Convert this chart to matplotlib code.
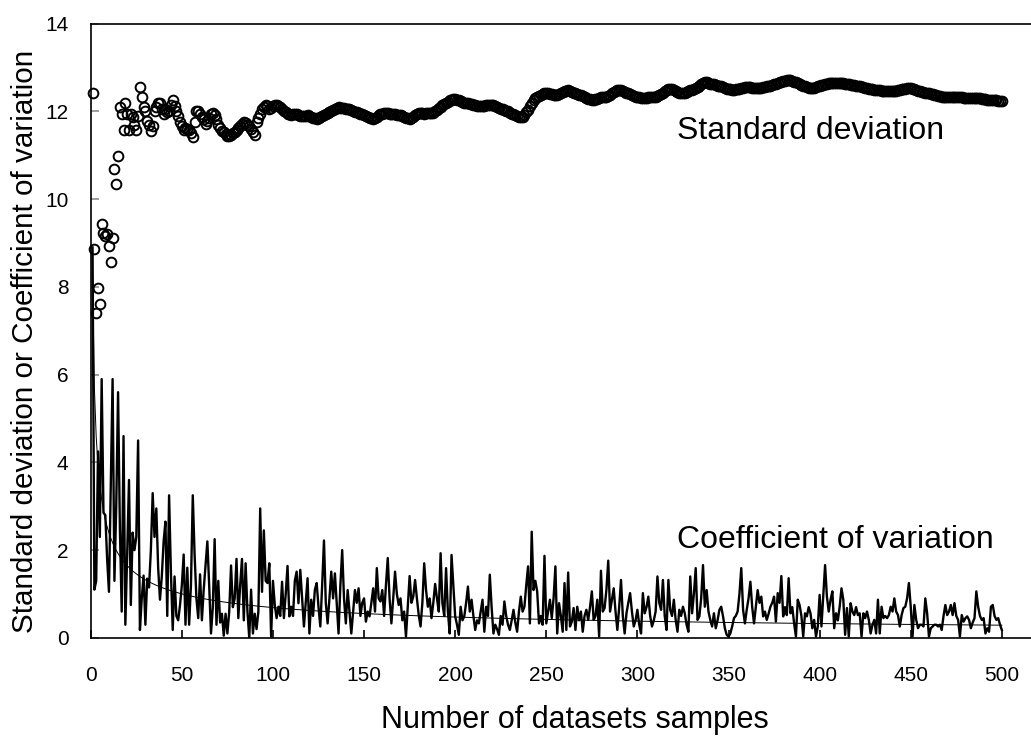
import numpy as np
import matplotlib
matplotlib.use('Agg')
from matplotlib import pyplot as plt

# standard deviation for sample counts 1..500
sd_values = [
    12.42, 8.87, 7.41, 7.98, 7.60, 9.44, 9.24, 9.15, 9.20, 8.94,
    8.56, 9.12, 10.69, 10.34, 10.98, 12.10, 11.95, 11.57, 12.20, 11.93,
    11.57, 11.95, 11.88, 11.70, 11.57, 11.90, 12.55, 12.32, 12.10, 12.00,
    11.79, 11.70, 11.56, 11.66, 12.00, 12.10, 12.20, 12.20, 12.06, 11.93,
    12.05, 11.98, 12.00, 12.15, 12.27, 12.12, 12.00, 11.89, 11.77, 11.66,
    11.58, 11.62, 11.60, 11.57, 11.50, 11.41, 11.77, 12.00, 12.02, 11.95,
    11.88, 11.82, 11.72, 11.78, 11.85, 11.93, 11.97, 11.92, 11.82, 11.70,
    11.62, 11.56, 11.52, 11.48, 11.45, 11.43, 11.47, 11.50, 11.54, 11.58,
    11.62, 11.66, 11.72, 11.77, 11.74, 11.70, 11.66, 11.60, 11.54, 11.47,
    11.77, 11.85, 11.95, 12.05, 12.10, 12.15, 12.12, 12.05, 12.08, 12.12,
    12.14, 12.15, 12.13, 12.10, 12.06, 12.02, 11.98, 11.95, 11.93, 11.92,
    11.93, 11.94, 11.93, 11.91, 11.90, 11.89, 11.89, 11.90, 11.91, 11.90,
    11.88, 11.86, 11.84, 11.83, 11.85, 11.87, 11.89, 11.92, 11.94, 11.96,
    11.98, 12.00, 12.03, 12.06, 12.08, 12.09, 12.08, 12.07, 12.07, 12.06,
    12.06, 12.05, 12.03, 12.01, 11.99, 11.98, 11.96, 11.95, 11.93, 11.91,
    11.89, 11.87, 11.85, 11.84, 11.83, 11.85, 11.88, 11.91, 11.93, 11.95,
    11.96, 11.97, 11.96, 11.95, 11.94, 11.93, 11.93, 11.92, 11.92, 11.92,
    11.90, 11.88, 11.86, 11.84, 11.83, 11.85, 11.88, 11.91, 11.94, 11.96,
    11.97, 11.96, 11.95, 11.96, 11.97, 11.96, 11.96, 11.97, 12.00, 12.04,
    12.08, 12.11, 12.14, 12.16, 12.19, 12.22, 12.25, 12.27, 12.28, 12.28,
    12.27, 12.25, 12.23, 12.21, 12.20, 12.19, 12.19, 12.18, 12.17, 12.15,
    12.14, 12.13, 12.12, 12.12, 12.12, 12.13, 12.14, 12.15, 12.15, 12.15,
    12.14, 12.12, 12.10, 12.08, 12.06, 12.05, 12.04, 12.02, 12.00, 11.97,
    11.95, 11.93, 11.91, 11.89, 11.88, 11.87, 11.88, 11.92, 11.98, 12.04,
    12.12, 12.20, 12.27, 12.31, 12.34, 12.36, 12.38, 12.40, 12.41, 12.42,
    12.41, 12.40, 12.39, 12.38, 12.38, 12.38, 12.40, 12.42, 12.44, 12.46,
    12.47, 12.48, 12.47, 12.45, 12.43, 12.41, 12.40, 12.38, 12.37, 12.35,
    12.33, 12.31, 12.29, 12.28, 12.27, 12.27, 12.28, 12.29, 12.31, 12.32,
    12.33, 12.34, 12.34, 12.36, 12.38, 12.41, 12.44, 12.46, 12.48, 12.49,
    12.49, 12.47, 12.45, 12.43, 12.41, 12.39, 12.38, 12.36, 12.34, 12.33,
    12.32, 12.31, 12.31, 12.31, 12.31, 12.32, 12.33, 12.34, 12.34, 12.34,
    12.35, 12.37, 12.40, 12.43, 12.46, 12.49, 12.51, 12.51, 12.50, 12.48,
    12.46, 12.44, 12.43, 12.42, 12.42, 12.43, 12.44, 12.46, 12.48, 12.49,
    12.50, 12.53, 12.56, 12.59, 12.62, 12.64, 12.66, 12.66, 12.65, 12.63,
    12.63, 12.62, 12.60, 12.59, 12.58, 12.57, 12.55, 12.54, 12.52, 12.51,
    12.50, 12.49, 12.49, 12.50, 12.51, 12.52, 12.53, 12.54, 12.55, 12.55,
    12.55, 12.55, 12.54, 12.54, 12.53, 12.53, 12.53, 12.54, 12.55, 12.56,
    12.57, 12.58, 12.59, 12.60, 12.62, 12.63, 12.65, 12.66, 12.68, 12.69,
    12.70, 12.71, 12.71, 12.71, 12.70, 12.68, 12.66, 12.64, 12.62, 12.60,
    12.59, 12.57, 12.55, 12.54, 12.53, 12.53, 12.54, 12.56, 12.57, 12.59,
    12.60, 12.61, 12.62, 12.63, 12.64, 12.64, 12.65, 12.65, 12.65, 12.65,
    12.65, 12.65, 12.64, 12.63, 12.63, 12.62, 12.61, 12.60, 12.60, 12.59,
    12.58, 12.57, 12.56, 12.55, 12.54, 12.53, 12.52, 12.51, 12.50, 12.49,
    12.49, 12.48, 12.48, 12.47, 12.47, 12.47, 12.46, 12.46, 12.46, 12.46,
    12.46, 12.47, 12.48, 12.49, 12.50, 12.51, 12.52, 12.53, 12.53, 12.53,
    12.52, 12.51, 12.49, 12.47, 12.46, 12.45, 12.44, 12.43, 12.42, 12.41,
    12.40, 12.39, 12.38, 12.37, 12.36, 12.35, 12.34, 12.34, 12.34, 12.34,
    12.34, 12.34, 12.34, 12.33, 12.33, 12.32, 12.32, 12.32, 12.31, 12.31,
    12.31, 12.31, 12.31, 12.31, 12.31, 12.30, 12.30, 12.30, 12.29, 12.28,
    12.28, 12.27, 12.27, 12.26, 12.26, 12.25, 12.25, 12.24, 12.24, 12.23,
]

# coefficient of variation for sample counts 1..500
cv_values = [
    8.9, 1.1, 1.3, 4.25, 2.3, 5.9, 2.85, 2.8, 1.8, 1.05,
    3.5, 5.9, 1.3, 3.0, 5.6, 2.5, 0.6, 4.6, 0.3, 1.9,
    3.6, 0.75, 2.4, 2.0, 2.3, 4.5, 0.18, 0.9, 1.42, 0.3,
    1.35, 1.15, 2.0, 3.3, 2.3, 2.95, 1.6, 0.87, 1.4, 2.2,
    2.65, 0.5, 3.25, 1.5, 0.18, 1.4, 0.5, 0.4, 0.75, 1.2,
    1.9, 0.3, 1.6, 0.3, 1.2, 3.25, 1.9, 0.9, 0.45, 1.45,
    0.4, 1.1, 1.65, 2.2, 1.2, 0.1, 0.7, 2.25, 0.3, 1.3,
    0.35, 0.55, 0.05, 0.55, 0.1, 0.6, 1.65, 0.7, 0.9, 1.8,
    0.45, 1.2, 1.8, 0.4, 1.7, 0.6, 0.0, 1.1, 0.1, 0.55,
    0.2, 0.6, 2.95, 1.05, 2.45, 1.3, 1.25, 1.7, 0.03, 1.3,
    0.75, 0.45, 0.71, 0.5, 1.28, 0.45, 1.0, 1.64, 0.49, 0.71,
    0.5, 1.3, 1.51, 0.79, 1.55, 0.9, 0.26, 0.8, 1.36, 0.1,
    0.87, 0.5, 1.1, 1.25, 0.7, 0.26, 1.2, 2.22, 0.8, 0.33,
    0.9, 1.51, 0.9, 1.47, 0.8, 0.1, 1.2, 2.0, 0.9, 0.33,
    1.09, 0.6, 0.1, 0.6, 1.09, 0.8, 1.13, 0.5, 0.8, 0.9,
    0.37, 0.6, 0.49, 0.8, 1.13, 0.6, 1.59, 0.9, 0.83, 1.09,
    0.5, 1.2, 1.82, 0.9, 0.33, 0.9, 1.51, 1.0, 0.75, 0.9,
    0.4, 0.6, 0.03, 0.7, 1.41, 0.8, 0.94, 1.32, 0.9, 0.52,
    0.26, 0.8, 1.70, 1.1, 0.71, 0.9, 0.45, 0.8, 1.23, 0.9,
    0.60, 1.93, 0.79, 0.5, 1.59, 0.6, 0.1, 1.89, 1.2, 0.49,
    0.3, 0.07, 0.71, 0.4, 0.49, 0.8, 1.17, 0.6, 0.87, 0.5,
    0.18, 0.4, 0.33, 0.6, 0.87, 0.14, 0.71, 0.5, 1.44, 0.7,
    0.1, 0.3, 0.2, 0.07, 0.5, 0.3, 0.83, 0.5, 0.30, 0.18,
    0.4, 0.64, 0.35, 0.14, 0.6, 0.94, 0.6, 0.71, 1.2, 1.63,
    0.33, 2.42, 1.09, 1.3, 1.06, 0.33, 0.5, 0.30, 1.87, 0.33,
    0.6, 0.87, 0.45, 0.9, 1.63, 0.1, 0.79, 0.5, 0.14, 1.25,
    0.18, 1.49, 0.26, 0.37, 0.68, 0.18, 0.71, 0.4, 0.6, 0.14,
    0.5, 0.64, 0.41, 0.7, 1.06, 0.41, 0.5, 0.87, 0.03, 1.53,
    0.6, 0.68, 1.1, 1.76, 0.6, 0.87, 1.13, 0.6, 0.18, 0.7,
    1.32, 0.5, 0.1, 0.56, 0.8, 1.02, 0.6, 0.26, 0.4, 0.64,
    0.3, 0.1, 1.02, 0.56, 0.7, 0.94, 0.5, 0.26, 0.4, 0.6,
    1.40, 0.8, 0.64, 1.32, 0.5, 0.18, 1.32, 0.64, 0.5, 0.87,
    0.41, 0.14, 0.64, 0.5, 0.71, 0.56, 0.3, 0.14, 1.40, 0.56,
    1.0, 1.59, 0.41, 0.49, 0.9, 1.66, 0.71, 1.09, 0.6, 0.41,
    0.26, 0.56, 0.22, 0.4, 0.64, 0.71, 0.49, 0.22, 0.07, 0.03,
    0.1, 0.26, 0.45, 0.5, 0.6, 1.0, 1.59, 0.64, 0.33, 0.64,
    0.9, 1.28, 0.7, 0.33, 0.7, 1.09, 0.8, 0.94, 0.49, 0.6,
    0.41, 0.55, 0.71, 0.8, 0.94, 0.37, 1.02, 0.8, 1.41, 0.49,
    0.7, 0.52, 1.36, 0.56, 0.7, 0.33, 0.03, 0.87, 0.75, 0.5,
    0.03, 0.56, 0.49, 0.7, 0.56, 0.22, 0.41, 0.03, 0.26, 0.98,
    0.26, 0.94, 1.66, 0.94, 0.6, 0.87, 1.06, 0.22, 0.56, 0.4,
    0.71, 1.13, 0.87, 0.07, 0.68, 0.03, 0.79, 0.6, 0.52, 0.7,
    0.52, 0.56, 0.03, 0.56, 0.45, 0.6, 0.41, 0.1, 0.3, 0.41,
    0.1, 0.87, 0.1, 0.71, 0.45, 0.5, 0.45, 0.52, 0.71, 0.6,
    0.9, 0.6, 0.52, 0.26, 0.52, 0.68, 0.71, 0.9, 1.25, 0.71,
    0.03, 0.75, 0.41, 0.22, 0.3, 0.3, 0.26, 0.9, 0.56, 0.03,
    0.22, 0.26, 0.3, 0.3, 0.26, 0.3, 0.18, 0.5, 0.75, 0.52,
    0.6, 0.75, 0.52, 0.79, 0.5, 0.41, 0.03, 0.52, 0.37, 0.45,
    0.49, 0.41, 0.22, 0.35, 0.45, 1.06, 0.71, 0.5, 0.41, 0.45,
    0.1, 0.22, 0.14, 0.71, 0.75, 0.5, 0.41, 0.45, 0.3, 0.18,
]

# power trendline of the coefficient of variation, y = a * n^b
trend_a = 8.3
trend_b = -0.54

x_ticks = list(range(0, 501, 50))
y_ticks = list(range(0, 15, 2))


def main():
    plt.rcParams['font.family'] = ['Liberation Sans', 'DejaVu Sans']

    fig = plt.figure(figsize=(10.31, 7.40), dpi=100)
    ax = fig.add_axes((0.088, 0.138, 0.912, 0.83))

    n_sd = np.arange(1, len(sd_values) + 1)
    n_cv = np.arange(1, len(cv_values) + 1)

    ax.plot(n_cv, cv_values, color='black', lw=1.7, zorder=2)
    ax.plot(n_cv, trend_a * n_cv ** trend_b, color='black', lw=0.7, zorder=3)
    ax.plot(n_sd, sd_values, 'o', mfc='none', mec='black', ms=7, mew=1.4,
            zorder=4, clip_on=False)

    ax.set_xlim(0, 516)
    ax.set_ylim(0, 14)
    ax.set_xticks(x_ticks)
    ax.set_yticks(y_ticks)

    ax.spines['right'].set_visible(False)
    for s in ('left', 'bottom', 'top'):
        ax.spines[s].set_linewidth(1.2)

    ax.tick_params(axis='x', direction='in', length=6, width=1.2,
                   labelsize=15, pad=20)
    ax.tick_params(axis='y', direction='in', length=6, width=1.2,
                   color='#909090', labelsize=15, pad=16)

    ax.set_xlabel('Number of datasets samples', fontsize=22)
    ax.xaxis.set_label_coords(0.515, -0.11)
    ax.set_ylabel('Standard deviation or Coefficient of variation',
                  fontsize=21.3, va='center')
    ax.yaxis.set_label_coords(-0.07, 0.483)

    ax.text(322, 11.55, 'Standard deviation', fontsize=23, ha='left', va='center')
    ax.text(322, 2.23, 'Coefficient of variation', fontsize=23, ha='left', va='center')

    fig.savefig('out.png', dpi=100)


if __name__ == '__main__':
    main()
